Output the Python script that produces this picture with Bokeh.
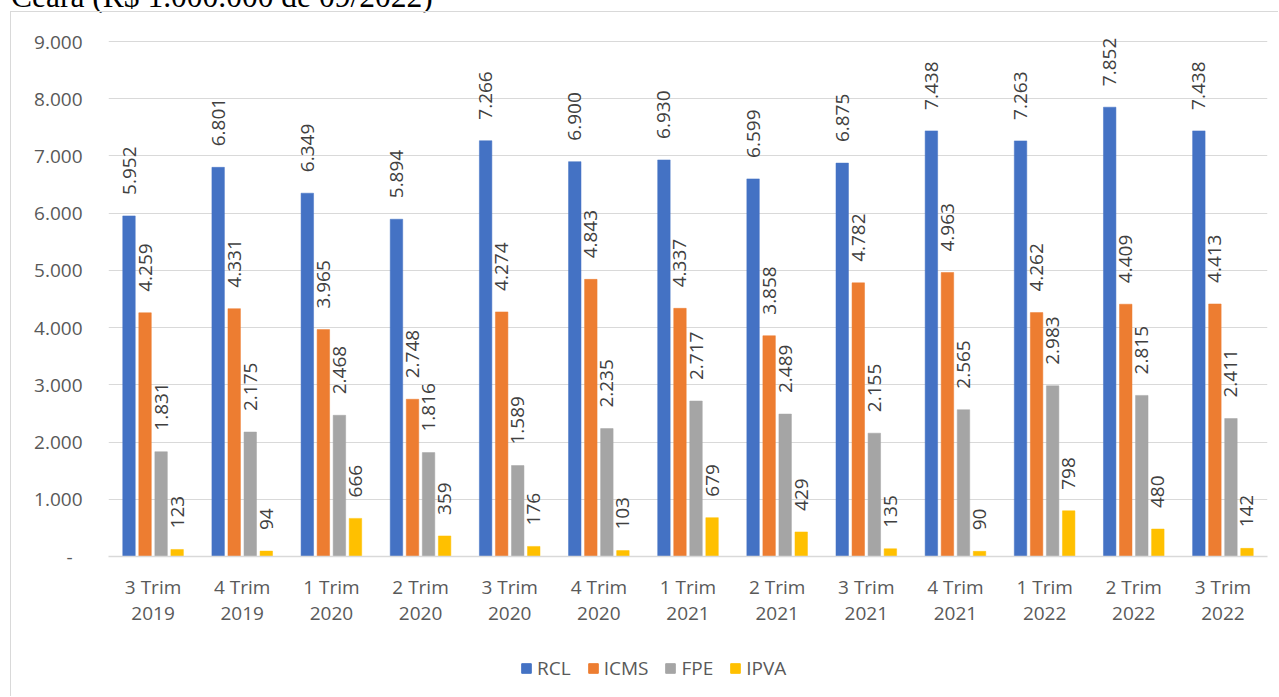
import numpy as np
from bokeh.plotting import figure
from bokeh.layouts import column
from bokeh.models import (ColumnDataSource, FactorRange, Range1d, FixedTicker, Legend,
                          LegendItem, Div)
from bokeh.transform import dodge
from bokeh.core.properties import value
from bokeh.embed import file_html
from bokeh.resources import INLINE

# Quarterly revenue, Ceará (R$ 1.000.000 de 09/2022)
quarters = ["3 Trim\n2019", "4 Trim\n2019", "1 Trim\n2020", "2 Trim\n2020",
            "3 Trim\n2020", "4 Trim\n2020", "1 Trim\n2021", "2 Trim\n2021",
            "3 Trim\n2021", "4 Trim\n2021", "1 Trim\n2022", "2 Trim\n2022",
            "3 Trim\n2022"]
rcl = [5952, 6801, 6349, 5894, 7266, 6900, 6930, 6599, 6875, 7438, 7263, 7852, 7438]
icms = [4259, 4331, 3965, 2748, 4274, 4843, 4337, 3858, 4782, 4963, 4262, 4409, 4413]
fpe = [1831, 2175, 2468, 1816, 1589, 2235, 2717, 2489, 2155, 2565, 2983, 2815, 2411]
ipva = [123, 94, 666, 359, 176, 103, 679, 429, 135, 90, 798, 480, 142]

series_names = ["RCL", "ICMS", "FPE", "IPVA"]
series_values = [rcl, icms, fpe, ipva]
series_colors = ["#4472C4", "#ED7D31", "#A5A5A5", "#FFC000"]
offsets = [-0.27, -0.09, 0.09, 0.27]

y_ticks = [0, 1000, 2000, 3000, 4000, 5000, 6000, 7000, 8000, 9000]
title_text = "Ceará (R$ 1.000.000 de 09/2022)"


def fmt(v):
    return f"{v:,}".replace(",", ".")


data = {"q": quarters}
for name, vals in zip(series_names, series_values):
    data[name] = vals
    data[name + "_lbl"] = [fmt(v) for v in vals]
source = ColumnDataSource(data)

FONT = "Open Sans"
BOX = "1px solid #D9D9D9"

# headroom above 9.000 keeps the rotated value labels inside the plot frame
p = figure(width=1268, height=628, output_backend="svg", toolbar_location=None,
           x_range=FactorRange(factors=quarters, range_padding=0),
           y_range=Range1d(0, 9506.8),
           min_border_left=97, min_border_right=12, min_border_top=0,
           min_border_bottom=84)
p.outline_line_color = None
p.background_fill_color = "white"
p.border_fill_color = "white"
p.margin = (0, 0, 0, 10)
p.frame_align = False
p.styles = {"border-left": BOX, "border-top": BOX}

for name, color, off in zip(series_names, series_colors, offsets):
    xd = dodge("q", off, range=p.x_range)
    p.vbar(x=xd, top=name, width=0.14, source=source,
           fill_color=color, line_color=color, line_width=0.5)
    p.text(x=xd, y=name, text=name + "_lbl", source=source,
           angle=np.pi / 2, text_align="left", text_baseline="middle",
           y_offset=-21, text_font=value(FONT), text_font_size="19px",
           text_color="#404040")

# axes
p.yaxis.ticker = FixedTicker(ticks=y_ticks)
p.yaxis.major_label_overrides = {t: (fmt(t) if t else "-\u00a0\u00a0") for t in y_ticks}
p.yaxis.axis_line_color = None
p.yaxis.major_tick_line_color = None
p.yaxis.minor_tick_line_color = None
p.yaxis.major_tick_out = 0
p.yaxis.major_tick_in = 0
p.yaxis.major_label_standoff = 26
p.yaxis.major_label_text_font = FONT
p.yaxis.major_label_text_font_size = "19px"
p.yaxis.major_label_text_color = "#595959"

p.xaxis.axis_line_color = "#D9D9D9"
p.xaxis.axis_line_width = 1.5
p.xaxis.major_tick_line_color = None
p.xaxis.minor_tick_line_color = None
p.xaxis.major_tick_out = 0
p.xaxis.major_tick_in = 0
p.xaxis.major_label_standoff = 17
p.xaxis.major_label_text_font = FONT
p.xaxis.major_label_text_font_size = "19px"
p.xaxis.major_label_text_color = "#595959"
p.xaxis.major_label_text_line_height = 1.0

p.xgrid.grid_line_color = None
p.ygrid.grid_line_color = "#D9D9D9"
p.ygrid.grid_line_width = 1

# legend strip under the chart; its series renderers are hidden, only swatches show
lf = figure(width=1268, height=57, output_backend="svg", toolbar_location=None,
            x_axis_type=None, y_axis_type=None,
            x_range=FactorRange(factors=quarters, range_padding=0), y_range=Range1d(0, 9000),
            min_border=0)
lf.outline_line_color = None
lf.grid.visible = False
lf.margin = (0, 0, 0, 10)
lf.frame_align = False
lf.styles = {"border-left": BOX}
swatches = [lf.vbar(x=dodge("q", off, range=lf.x_range), top=name, width=0.14, source=source,
                    fill_color=c, line_color=c, visible=False)
            for name, c, off in zip(series_names, series_colors, offsets)]
legend = Legend(items=[LegendItem(label=n, renderers=[r]) for n, r in zip(series_names, swatches)],
                orientation="horizontal", location=(509, 15),
                glyph_width=12, glyph_height=12, label_standoff=5, spacing=16,
                padding=0, margin=0, border_line_color=None, background_fill_alpha=0,
                inactive_fill_alpha=0,
                label_text_font=FONT, label_text_font_size="19px",
                label_text_color="#595959")
lf.add_layout(legend, "center")

caption = Div(
    text=('<div style="position:relative; top:-19px; left:11px; white-space:nowrap; '
          'font-family:\'Liberation Serif\'; font-size:31.5px; line-height:31px; color:#000;">'
          + title_text + '</div>'),
    width=1279, height=11, margin=(0, 0, 0, 0))

layout = column(caption, p, lf, spacing=0)

open("out.html", "w").write(file_html(layout, INLINE))
